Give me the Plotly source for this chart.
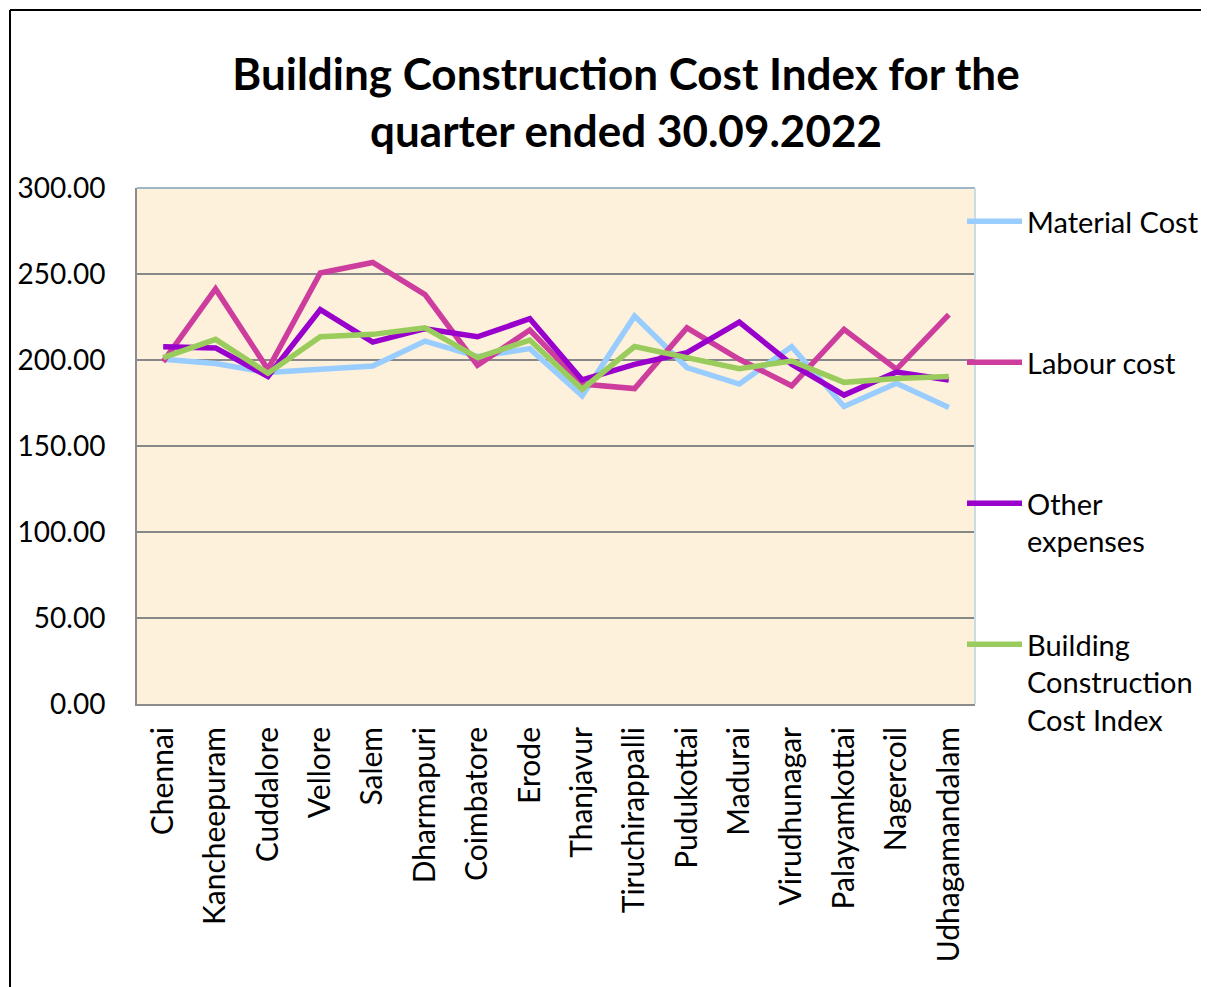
import plotly.graph_objects as go

cities = ["Chennai", "Kancheepuram", "Cuddalore", "Vellore", "Salem", "Dharmapuri",
          "Coimbatore", "Erode", "Thanjavur", "Tiruchirappalli", "Pudukottai", "Madurai",
          "Virudhunagar", "Palayamkottai", "Nagercoil", "Udhagamandalam"]

material_cost = [200.4, 198.0, 192.7, 194.6, 196.5, 211.0, 202.0, 206.6,
                 179.2, 225.5, 195.6, 186.0, 207.8, 173.0, 186.5, 172.4]
labour_cost = [199.0, 241.3, 194.6, 250.6, 256.7, 238.0, 197.0, 217.4,
               186.0, 183.4, 218.7, 200.4, 185.0, 217.8, 194.6, 226.4]
other_expenses = [207.7, 207.0, 190.4, 229.3, 210.4, 218.2, 213.5, 224.0,
                  188.4, 197.5, 204.3, 222.0, 197.5, 179.6, 193.0, 188.4]
bcci = [201.4, 212.0, 192.3, 213.5, 214.9, 218.7, 201.4, 211.6,
        183.0, 207.8, 201.4, 195.0, 199.4, 187.0, 189.2, 190.4]

series_names = ["Material Cost", "Labour cost",
                "Other<br>expenses", "Building<br>Construction<br>Cost Index"]
series_values = [material_cost, labour_cost, other_expenses, bcci]
series_colors = ["#99CCFF", "#CC3D9E", "#9900CC", "#99CC5C"]

y_ticks = [0, 50, 100, 150, 200, 250, 300]
y_ticktext = ["0.00", "50.00", "100.00", "150.00", "200.00", "250.00", "300.00"]

FONT = "Lato, 'Open Sans', sans-serif"

# the page places the figure 8px from the top-left corner
W, H = 1201, 979
PL, PR, PT, PB = 129, 967, 180, 696  # plot-area edges in figure pixels
PW, PH = PR - PL, PB - PT

legend_ids = ["legend", "legend2", "legend3", "legend4"]
legend_tops = [188, 329, 470, 611]  # figure pixels

fig = go.Figure()
for name, vals, col, lid in zip(series_names, series_values, series_colors, legend_ids):
    fig.add_trace(go.Scatter(
        x=cities, y=vals, name=name, mode="lines",
        line=dict(color=col, width=5.5),
        legend=lid,
    ))

legend_common = dict(
    x=(954 - PL) / PW, xanchor="left", yanchor="top",
    bgcolor="rgba(0,0,0,0)",
    font=dict(family=FONT, size=29, color="black"),
    valign="top", itemwidth=55,
)
legend_layout = {}
for lid, top in zip(legend_ids, legend_tops):
    legend_layout[lid] = dict(legend_common, y=(PB - top) / PH)

fig.update_layout(
    width=W, height=H,
    margin=dict(l=PL, r=W - PR, t=PT, b=H - PB, autoexpand=False),
    paper_bgcolor="white",
    plot_bgcolor="#FDF1DB",
    font=dict(family=FONT, color="black", size=28),
    title=dict(
        text="<b>Building Construction Cost Index for the<br>quarter ended 30.09.2022</b>",
        x=(618 - PL) / PW, xref="paper", xanchor="center",
        y=1 - 82 / H, yref="container", yanchor="middle",
        font=dict(family=FONT, size=44, color="black"),
    ),
    showlegend=True,
    **legend_layout,
)

fig.update_xaxes(
    type="category",
    range=[-0.5, 15.5],
    tickangle=-90,
    showgrid=False,
    showline=True, linecolor="#8C8C8C", linewidth=2,
    ticks="", ticklabelstandoff=9,
    tickfont=dict(family=FONT, size=30),
    automargin=False,
)
fig.update_yaxes(
    range=[0, 300],
    tickvals=y_ticks, ticktext=y_ticktext,
    showgrid=True, gridcolor="#888888", gridwidth=1.5,
    showline=True, linecolor="#8C8C8C", linewidth=2,
    zeroline=False,
    ticks="", ticklabelstandoff=24,
    tickfont=dict(family=FONT, size=28),
    automargin=False,
)

# plot-area top/right edges (light blue-grey) and outer chart border
fig.add_shape(type="line", xref="paper", yref="paper", x0=0, x1=1, y0=1, y1=1,
              line=dict(color="#9FB6C6", width=2))
fig.add_shape(type="line", xref="paper", yref="paper", x0=1, x1=1, y0=0, y1=1,
              line=dict(color="#C9DCE4", width=2))
bx = (2 - PL) / PW
by = (PB - 2) / PH
fig.add_shape(type="line", xref="paper", yref="paper",
              x0=bx, x1=(W + 10 - PL) / PW, y0=by, y1=by,
              line=dict(color="black", width=2))
fig.add_shape(type="line", xref="paper", yref="paper",
              x0=bx, x1=bx, y0=by, y1=(PB - H - 10) / PH,
              line=dict(color="black", width=2))

fig.write_html("out.html")
